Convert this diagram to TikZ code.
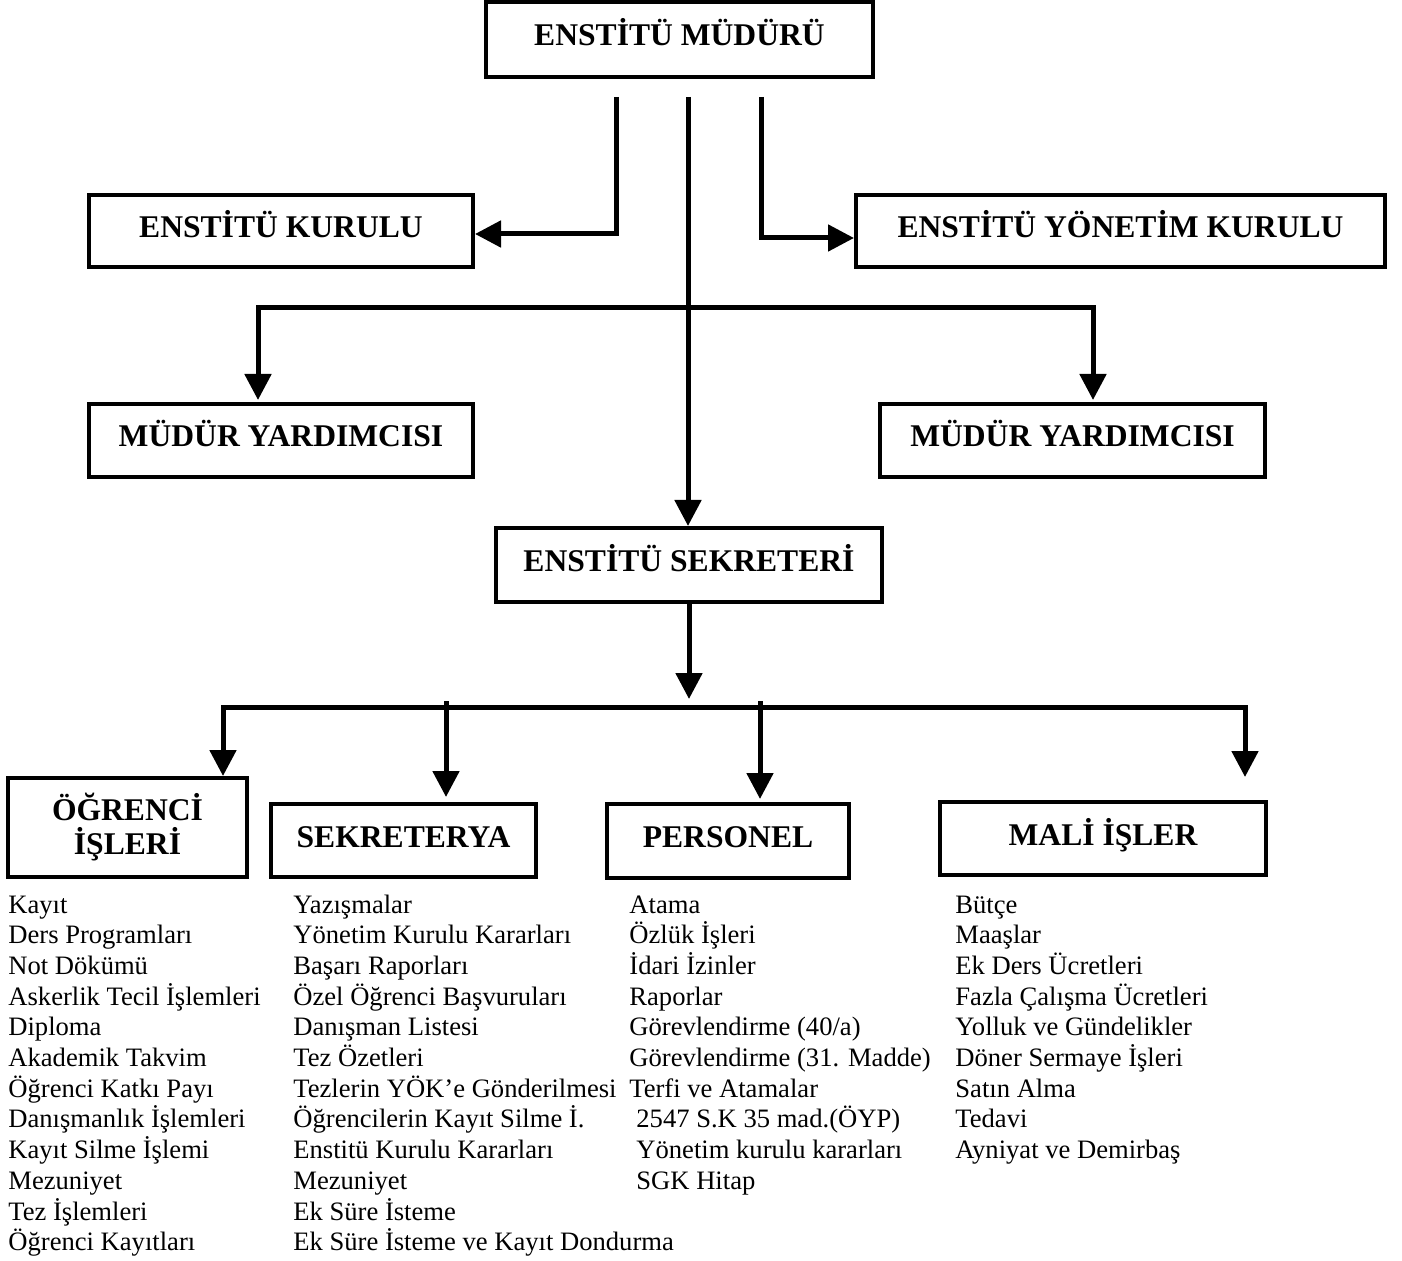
\documentclass[tikz,border=0pt]{standalone}
\usepackage{fontspec}
\setmainfont{Liberation Serif}
\usetikzlibrary{arrows.meta}
\tikzset{
  box/.style={draw, line width=2pt, inner sep=0pt, font=\bfseries\fontsize{15.8pt}{17pt}\selectfont},
  onel/.style={text height=10pt, text depth=3.5pt},
  conn/.style={line width=2.5pt},
  arr/.style={conn, -{Triangle[length=13pt,width=13pt]}},
  item/.style={inner sep=0pt, anchor=base west, font=\fontsize{13.3pt}{15.35pt}\selectfont},
}
\begin{document}
\begin{tikzpicture}[x=0.5pt, y=-0.5pt]
\useasboundingbox (0,0) rectangle (1402,1261);

% boxes
\node[box, onel, minimum width=193.5pt, minimum height=37.5pt] (mudur) at (679.5,39.5) {ENSTİTÜ MÜDÜRÜ};
\node[box, onel, minimum width=192pt, minimum height=36pt] (kurulu) at (281,231) {ENSTİTÜ KURULU};
\node[box, onel, minimum width=264.5pt, minimum height=36pt] (yonetim) at (1120.5,231) {ENSTİTÜ YÖNETİM KURULU};
\node[box, onel, minimum width=192pt, minimum height=36.5pt] (myl) at (281,440.5) {MÜDÜR YARDIMCISI};
\node[box, onel, minimum width=192.5pt, minimum height=36.5pt] (myr) at (1072.5,440.5) {MÜDÜR YARDIMCISI};
\node[box, onel, minimum width=193pt, minimum height=37pt] (sekreter) at (689,565) {ENSTİTÜ SEKRETERİ};
\node[box, align=center, minimum width=119.5pt, minimum height=49.5pt] (ogr) at (127.5,827.5) {ÖĞRENCİ\\İŞLERİ};
\node[box, onel, minimum width=132.5pt, minimum height=36.5pt] (sekya) at (403.5,840.5) {SEKRETERYA};
\node[box, onel, minimum width=121pt, minimum height=37pt] (pers) at (728,841) {PERSONEL};
\node[box, onel, minimum width=163pt, minimum height=36.5pt] (mali) at (1103,838.5) {MALİ İŞLER};

% connectors
\coordinate (sL) at (616,97);
\coordinate (sM) at (688,97);
\coordinate (sR) at (761,97);
\draw[arr] (sL) |- ([yshift=-1.5pt]kurulu.east);
\draw[arr] (sR) |- ([yshift=-3.5pt]yonetim.west);
\draw[arr] (sM) -- (sM |- sekreter.north);
\coordinate (b1) at (688,308);
\draw[arr, shorten >=1pt] (b1) -| ([xshift=-11.5pt]myl.north);
\draw[arr, shorten >=1pt] (b1) -| ([xshift=10.25pt]myr.north);

\coordinate (hb) at (689,699);
\draw[arr] (sekreter.south) -- (hb);
\coordinate (h2L) at (223,707);
\coordinate (h2R) at (1245,707);
\draw[arr] (h2R) -- (h2L) -- (h2L |- ogr.north);
\draw[arr, shorten >=11.5pt] (h2L) -- (h2R) -- (h2R |- mali.north);
\coordinate (t2) at (446,701);
\draw[arr, shorten >=2.5pt] (t2) -- (t2 |- sekya.north);
\coordinate (t3) at (760,701);
\draw[arr, shorten >=1.5pt] (t3) -- (t3 |- pers.north);

% lists
\foreach \t [count=\i] in {Kayıt, Ders Programları, Not Dökümü, Askerlik Tecil İşlemleri, Diploma, Akademik Takvim, Öğrenci Katkı Payı, Danışmanlık İşlemleri, Kayıt Silme İşlemi, Mezuniyet, Tez İşlemleri, Öğrenci Kayıtları}
  \node[item] (ca-\i) at (8,{913+30.7*(\i-1)}) {\t};
\foreach \t [count=\i] in {Yazışmalar, Yönetim Kurulu Kararları, Başarı Raporları, Özel Öğrenci Başvuruları, Danışman Listesi, Tez Özetleri, Tezlerin YÖK’e Gönderilmesi, Öğrencilerin Kayıt Silme İ., Enstitü Kurulu Kararları, Mezuniyet, Ek Süre İsteme, Ek Süre İsteme ve Kayıt Dondurma}
  \node[item] (cb-\i) at (293,{913+30.7*(\i-1)}) {\t};
\foreach \t [count=\i] in {Atama, Özlük İşleri, İdari İzinler, Raporlar, {Görevlendirme (40/a)}, {Görevlendirme (31. Madde)}, Terfi ve Atamalar}
  \node[item] (cc-\i) at (629,{913+30.7*(\i-1)}) {\t};
\foreach \t [count=\i from 8] in {{2547 S.K 35 mad.(ÖYP)}, Yönetim kurulu kararları, SGK Hitap}
  \node[item] (cc-\i) at (636,{913+30.7*(\i-1)}) {\t};
\foreach \t [count=\i] in {Bütçe, Maaşlar, Ek Ders Ücretleri, Fazla Çalışma Ücretleri, Yolluk ve Gündelikler, Döner Sermaye İşleri, Satın Alma, Tedavi, Ayniyat ve Demirbaş}
  \node[item] (cd-\i) at (955,{913+30.7*(\i-1)}) {\t};
\end{tikzpicture}
\end{document}
